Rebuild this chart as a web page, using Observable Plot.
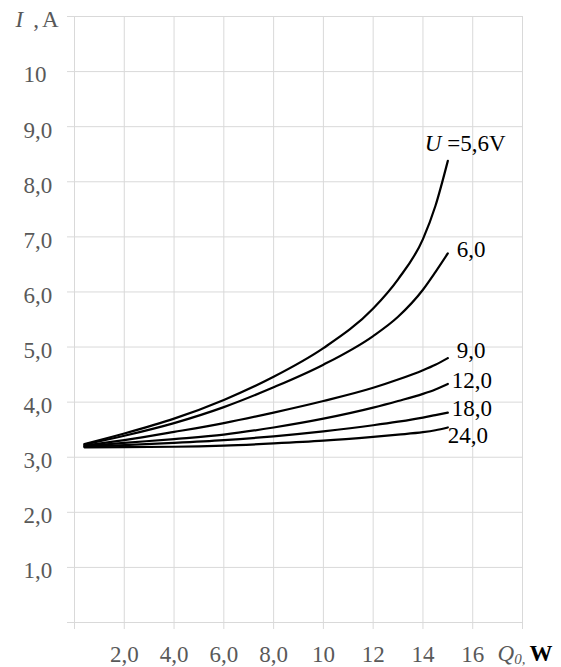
<!DOCTYPE html>
<html><head><meta charset="utf-8">
<script src="https://cdn.jsdelivr.net/npm/d3@7"></script>
<script src="https://cdn.jsdelivr.net/npm/@observablehq/plot@0.6"></script>
<style>body{margin:0;background:#fff}</style>
</head><body><div id="chart"></div>
<script>
// Q0, W
const Q = [0.4, 2, 4, 6, 8, 10, 12, 13, 14, 14.5, 15];
// I, A for each supply voltage U
const I_5_6 = [3.24, 3.43, 3.70, 4.04, 4.46, 4.98, 5.70, 6.23, 6.96, 7.56, 8.38];
const I_6_0 = [3.23, 3.39, 3.62, 3.91, 4.27, 4.68, 5.20, 5.55, 6.04, 6.36, 6.70];
const I_9_0 = [3.21, 3.31, 3.46, 3.62, 3.81, 4.02, 4.26, 4.41, 4.58, 4.68, 4.80];
const I_12_0 = [3.20, 3.26, 3.33, 3.41, 3.54, 3.70, 3.90, 4.02, 4.15, 4.23, 4.33];
const I_18_0 = [3.19, 3.22, 3.26, 3.31, 3.38, 3.47, 3.58, 3.645, 3.72, 3.765, 3.81];
const I_24_0 = [3.18, 3.185, 3.19, 3.21, 3.25, 3.30, 3.37, 3.41, 3.455, 3.49, 3.54];

const seriesNames = ["5,6", "6,0", "9,0", "12,0", "18,0", "24,0"];
const seriesValues = [I_5_6, I_6_0, I_9_0, I_12_0, I_18_0, I_24_0];
const seriesLabels = ["U =5,6V", "6,0", "9,0", "12,0", "18,0", "24,0"];

const xTicks = [0, 2, 4, 6, 8, 10, 12, 14, 16, 18];
const xTickLabels = ["", "2,0", "4,0", "6,0", "8,0", "10", "12", "14", "16", ""];
const yTicks = [0, 1, 2, 3, 4, 5, 6, 7, 8, 9, 10, 11];
const yTickLabels = ["", "1,0", "2,0", "3,0", "4,0", "5,0", "6,0", "7,0", "8,0", "9,0", "10", ""];
const xTitle = "Q0, W";
const yTitle = "I , A";

const rows = seriesNames.flatMap((u, k) => Q.map((q, j) => ({u, q, i: seriesValues[k][j]})));
const ends = seriesNames.map((u, k) => ({u, label: seriesLabels[k], q: Q[Q.length - 1], i: seriesValues[k][Q.length - 1]}));
const yLabelRows = yTicks.map((v, k) => ({v, t: yTickLabels[k]})).filter(d => d.t !== "");

// label offsets (styling only)
const offs = {"5,6": [-23, -17], "6,0": [9, -4], "9,0": [9, -7], "12,0": [4, -3], "18,0": [4, -4], "24,0": [0, 8]};

const FONT = "'Liberation Serif', 'Times New Roman', serif";
const GRID = "#d9d9d9";
const TXT = "#595959";
const FS = 23;

const svg = Plot.plot({
  width: 561,
  height: 667,
  marginLeft: 74,
  marginRight: 39,
  marginTop: 16,
  marginBottom: 45,
  style: {fontFamily: FONT, fontSize: FS + "px", background: "white", overflow: "visible"},
  x: {domain: [0, 18]},
  y: {domain: [0, 11]},
  marks: [
    Plot.gridX({ticks: xTicks, stroke: GRID, strokeOpacity: 1}),
    Plot.gridY({ticks: yTicks, stroke: GRID, strokeOpacity: 1}),
    Plot.axisX({ticks: xTicks, tickSize: 7, tickPadding: 16, stroke: GRID, strokeOpacity: 1, fill: TXT, fontSize: FS,
      tickFormat: d => xTickLabels[xTicks.indexOf(d)], label: null}),
    Plot.axisY({ticks: yTicks, tickSize: 7, stroke: GRID, strokeOpacity: 1, tickFormat: () => "", label: null}),
    Plot.text(yLabelRows, {y: "v", text: "t", frameAnchor: "left", textAnchor: "start", dx: -51, dy: 3.5, fill: TXT, fontSize: FS}),
    Plot.text([{i: 11}], {y: "i", text: () => yTitle, frameAnchor: "left", textAnchor: "start", dx: -59, dy: 3.5, fill: TXT, fontSize: FS}),
    Plot.text([{q: 18, i: 0}], {x: "q", y: "i", text: () => xTitle, textAnchor: "start", dx: -25, dy: 31.5, fill: TXT, fontSize: FS}),
    Plot.line(rows, {x: "q", y: "i", z: "u", curve: "monotone-x", stroke: "black", strokeWidth: 2.2}),
    ...ends.map(e => Plot.text([e], {x: "q", y: "i", text: "label", textAnchor: "start",
      dx: offs[e.u][0], dy: offs[e.u][1], fill: "black", fontSize: FS}))
  ]
});

// rich text (italic symbols, subscript)
d3.select(svg).selectAll("text").each(function() {
  const t = d3.select(this);
  const s = this.textContent;
  if (s === xTitle) {
    t.text(null);
    t.append("tspan").attr("font-style", "italic").text("Q");
    t.append("tspan").attr("font-style", "italic").attr("font-size", 15).attr("dy", 3).text("0,");
    t.append("tspan").attr("dy", -3).attr("dx", 4).attr("fill", "black").attr("font-weight", "bold").text("W");
  } else if (s === yTitle) {
    t.text(null);
    t.append("tspan").attr("font-style", "italic").text("I");
    t.append("tspan").attr("dx", 10).text(",");
    t.append("tspan").attr("dx", 3).text("A");
  } else if (s === "U =5,6V") {
    t.text(null);
    t.append("tspan").attr("font-style", "italic").text("U");
    t.append("tspan").text(" =5,6V");
  }
});

document.getElementById("chart").appendChild(svg);
</script>
</body></html>
